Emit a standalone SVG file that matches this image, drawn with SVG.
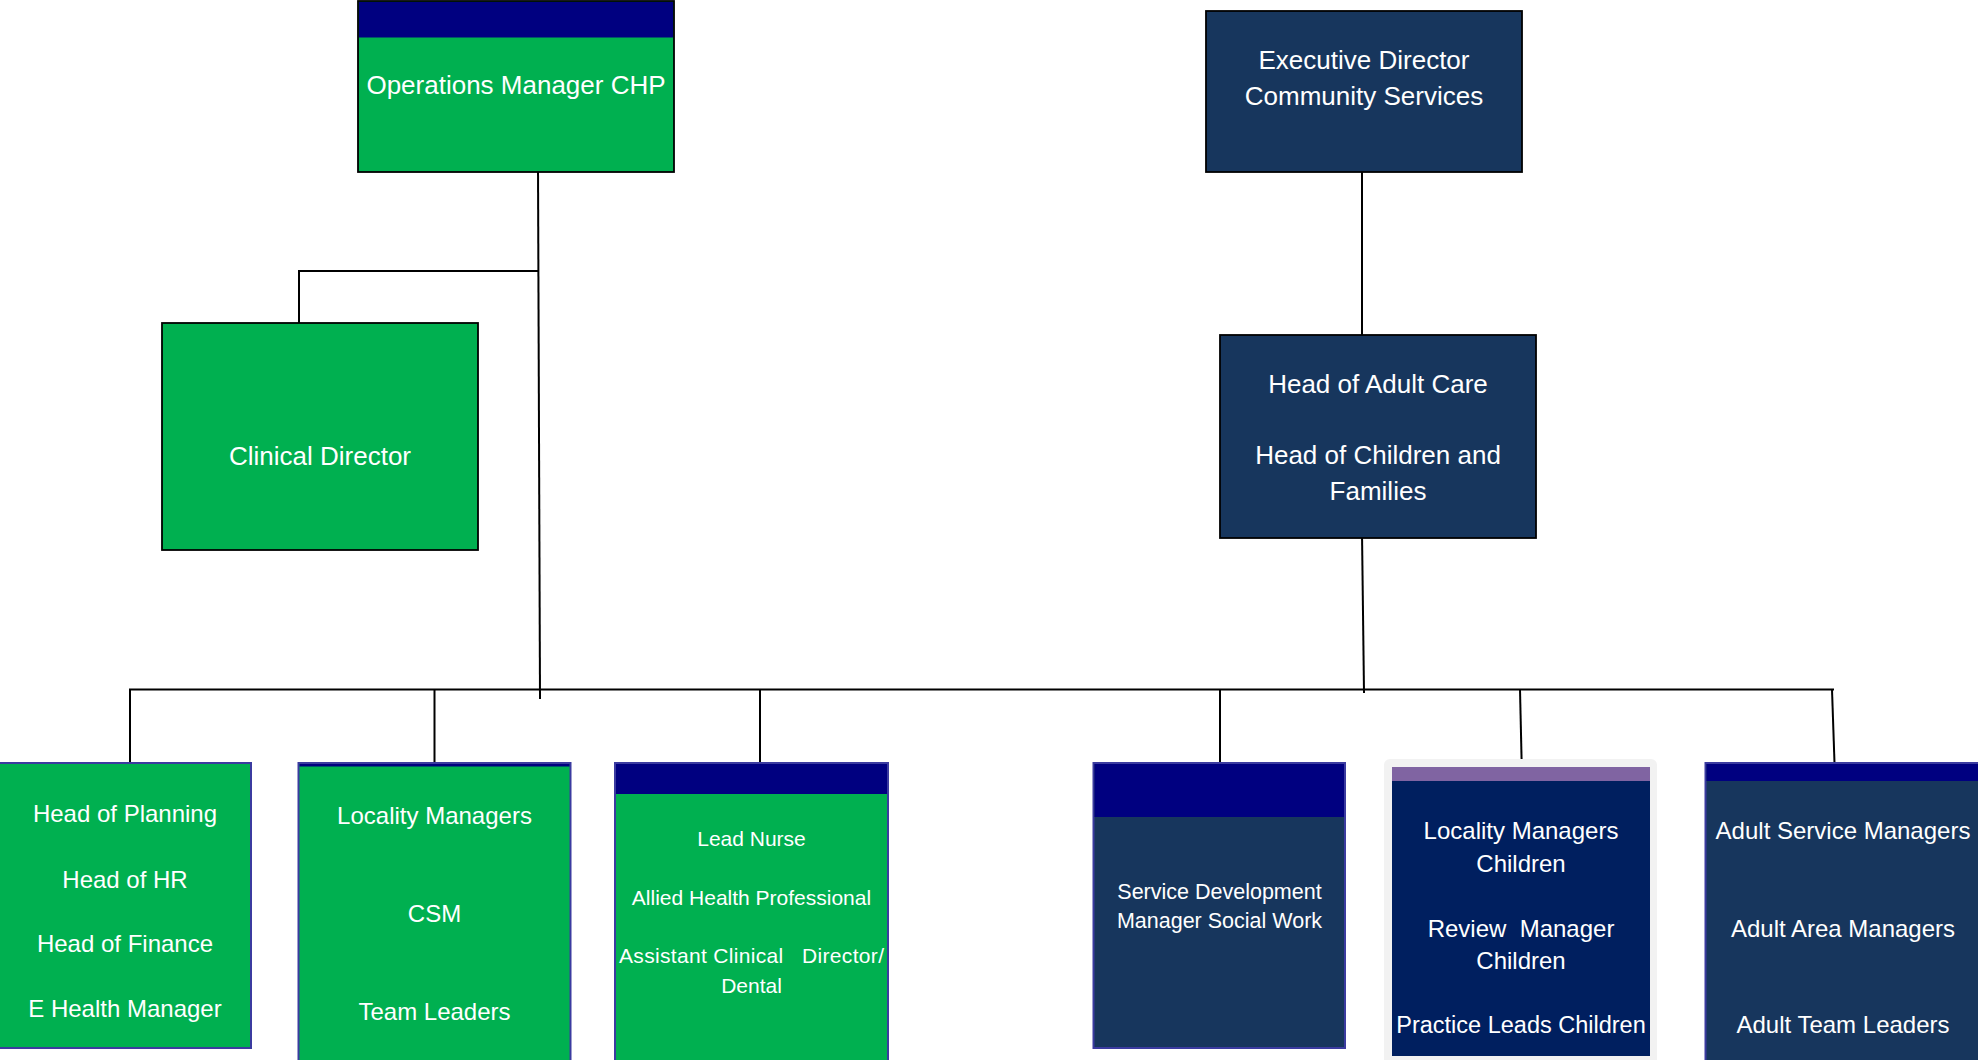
<svg xmlns="http://www.w3.org/2000/svg" width="1978" height="1060" viewBox="0 0 1978 1060">
<style>
text{font-family:"Liberation Sans",Arial,sans-serif;fill:#ffffff;text-anchor:middle;white-space:pre}
.t26{font-size:26px}
.t24{font-size:24px}
.t21{font-size:21px}
.blk{stroke:#000000;stroke-width:1.8}
.blu{stroke:#3B3BA0;stroke-width:2}
.green{fill:#00B050}
.dark{fill:#17365D}
.navy{fill:#000080}
.conn{stroke:#000000;stroke-width:2;fill:none}
</style>
<rect width="1978" height="1060" fill="#ffffff"/>
<g id="connectors">
<path class="conn" d="M538,167 L540,699"/>
<path class="conn" d="M538,271 L299,271 L299,323"/>
<path class="conn" d="M1362,168 L1362,337"/>
<path class="conn" d="M1362,533 L1364,693"/>
<path class="conn" d="M130,764 L130,689.5 L1834,689.5"/>
<path class="conn" d="M434.5,689.5 L434.5,764"/>
<path class="conn" d="M760,689.5 L760,763"/>
<path class="conn" d="M1220,689.5 L1220,763"/>
<path class="conn" d="M1520,689.5 L1522,778"/>
<path class="conn" d="M1832,689.5 L1834.5,763"/>
</g>
<g id="ops-manager">
<rect x="358" y="1" width="316" height="171" class="green blk"/>
<rect x="359" y="2" width="314" height="35.5" class="navy"/>
<text x="516" y="94" class="t26">Operations Manager CHP</text>
</g>
<g id="exec-director">
<rect x="1206" y="11" width="316" height="161" class="dark blk"/>
<text x="1364" y="69" class="t26">Executive Director</text>
<text x="1364" y="105" class="t26">Community Services</text>
</g>
<g id="clinical-director">
<rect x="162" y="323" width="316" height="227" class="green blk"/>
<text x="320" y="465" class="t26">Clinical Director</text>
</g>
<g id="head-adult-care">
<rect x="1220" y="335" width="316" height="203" class="dark blk"/>
<text x="1378" y="393" class="t26">Head of Adult Care</text>
<text x="1378" y="464" class="t26">Head of Children and</text>
<text x="1378" y="500" class="t26">Families</text>
</g>
<g id="head-planning">
<rect x="-2" y="763" width="253" height="285" class="green blu"/>
<text x="125" y="822" class="t24">Head of Planning</text>
<text x="125" y="888" class="t24">Head of HR</text>
<text x="125" y="952" class="t24">Head of Finance</text>
<text x="125" y="1017" class="t24">E Health Manager</text>
</g>
<g id="locality-managers">
<rect x="298.5" y="763" width="272" height="300" class="green blu"/>
<rect x="299.5" y="764" width="270" height="2.5" class="navy"/>
<text x="434.5" y="824" class="t24">Locality Managers</text>
<text x="434.5" y="922" class="t24">CSM</text>
<text x="434.5" y="1020" class="t24">Team Leaders</text>
</g>
<g id="lead-nurse">
<rect x="615" y="763" width="273" height="300" class="green blu"/>
<rect x="616" y="764" width="271" height="30" class="navy"/>
<text x="751.5" y="846" class="t21">Lead Nurse</text>
<text x="751.5" y="905" class="t21">Allied Health Professional</text>
<text x="751.5" y="963" class="t21" textLength="265" lengthAdjust="spacing">Assistant Clinical   Director/</text>
<text x="751.5" y="993" class="t21">Dental</text>
</g>
<g id="service-development">
<rect x="1093.5" y="763" width="251.5" height="285" class="dark blu"/>
<rect x="1094.5" y="764" width="249.5" height="53" class="navy"/>
<text x="1219.5" y="899" class="t21" style="font-size:21.5px">Service Development</text>
<text x="1219.5" y="928" class="t21" style="font-size:21.5px">Manager Social Work</text>
</g>
<g id="locality-managers-children">
<rect x="1384" y="759" width="273" height="310" rx="6" fill="#F2F2F2"/>
<rect x="1392" y="767" width="258" height="289" fill="#001F5F"/>
<rect x="1392" y="767" width="258" height="14" fill="#8064A2"/>
<text x="1521" y="839" class="t24">Locality Managers</text>
<text x="1521" y="872" class="t24">Children</text>
<text x="1521" y="937" class="t24">Review  Manager</text>
<text x="1521" y="969" class="t24">Children</text>
<text x="1521" y="1033" class="t24" style="font-size:23.5px">Practice Leads Children</text>
</g>
<g id="adult-service-managers">
<rect x="1705.5" y="763" width="276" height="300" class="dark blu"/>
<rect x="1706.5" y="764" width="274" height="17" class="navy"/>
<text x="1843" y="839" class="t24">Adult Service Managers</text>
<text x="1843" y="937" class="t24">Adult Area Managers</text>
<text x="1843" y="1033" class="t24">Adult Team Leaders</text>
</g>
</svg>
